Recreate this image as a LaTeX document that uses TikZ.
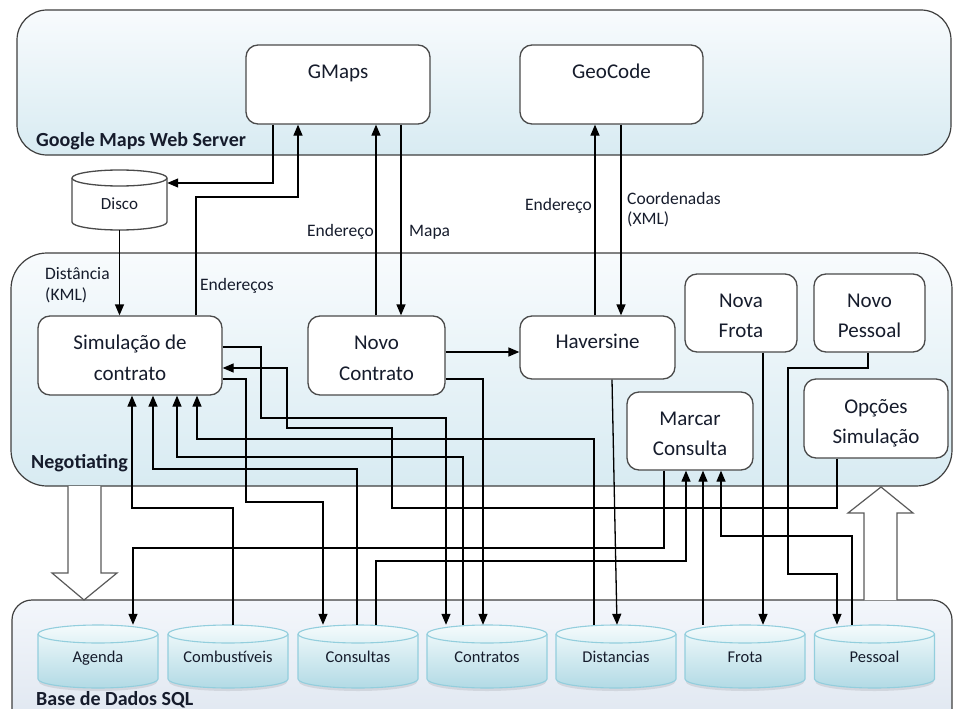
\documentclass[tikz,border=0pt]{standalone}
\usepackage{fontspec}
\setmainfont{Carlito}
\usetikzlibrary{arrows.meta}

\definecolor{panelline}{HTML}{3F3F3F}
\definecolor{paneltop}{HTML}{F8FBFD}
\definecolor{panelbot}{HTML}{D8EBF2}
\definecolor{basetop}{HTML}{F3F6FB}
\definecolor{basebot}{HTML}{DDE5EF}
\definecolor{boxline}{HTML}{4A4A4A}
\definecolor{dbline}{HTML}{93CEDD}
\definecolor{dbtop}{HTML}{F4FBFC}
\definecolor{dbbot}{HTML}{B2DAE5}
\definecolor{dbshadow}{HTML}{C9CED6}
\definecolor{ink}{HTML}{161C2C}
\definecolor{hollowline}{HTML}{5A5A5A}

\tikzset{
  panel/.style={draw=panelline, line width=1.2pt, top color=paneltop, bottom color=panelbot},
  basepanel/.style={draw=panelline, line width=1.2pt, top color=basetop, bottom color=basebot},
  procbox/.style={draw=boxline, line width=1.3pt, fill=white, rounded corners=12pt, inner sep=0pt},
  boxtxt/.style={font=\fontsize{21}{25}\selectfont, text=ink, anchor=base, inner sep=0pt},
  edgetxt/.style={font=\fontsize{17.5}{21}\selectfont, text=ink, anchor=base west, inner sep=0pt},
  paneltxt/.style={font=\bfseries\fontsize{20}{24}\selectfont, text=ink, anchor=base west, inner sep=0pt},
  dbtxt/.style={font=\fontsize{16.5}{20}\selectfont, text=ink, anchor=base, inner sep=0pt},
  dbslot/.style={minimum width=120pt, minimum height=63pt, inner sep=0pt},
  conn/.style={draw=black, line width=1.3pt},
  arr/.style={conn, -{Triangle[length=11pt,width=9pt]}},
  hollow/.style={draw=hollowline, line width=1.2pt, line join=miter},
}

% database cylinder: name, centre x, label
\newcommand\dbcyl[3]{%
  \fill[dbshadow, opacity=0.7]
    (#2-59,638) -- (#2-59,682) arc[start angle=180,end angle=0,x radius=59,y radius=9]
    -- (#2+59,638) -- cycle;
  \shade[draw=dbline, line width=1.1pt, top color=dbtop, bottom color=dbbot]
    (#2-60,634) -- (#2-60,679) arc[start angle=180,end angle=0,x radius=60,y radius=9]
    -- (#2+60,634) arc[start angle=0,end angle=-180,x radius=60,y radius=9] -- cycle;
  \draw[dbline, line width=1.1pt] (#2-60,634) arc[start angle=180,end angle=0,x radius=60,y radius=9];
  \node[dbslot] (#1) at (#2,656.5) {};
  \node[dbtxt] (#1-t) at (#2,662) {#3};
}

\begin{document}
\begin{tikzpicture}[x=1pt,y=-1pt]
\useasboundingbox (0,0) rectangle (953,709);

% layers
\path[panel, rounded corners=30pt] (17,10) rectangle (951,155);
\path[panel, rounded corners=36pt] (11,253) rectangle (952,486);
\path[basepanel, rounded corners=20pt] (12,600) rectangle (952,740);
\node[paneltxt] (gws-lbl) at (36,146) {Google Maps Web Server};
\node[paneltxt] (neg-lbl) at (31,468) {Negotiating};
\node[paneltxt] (sql-lbl) at (36,705) {Base de Dados SQL};

% flow between layers
\fill[white] (68,486) -- (68,573) -- (52,573) -- (84,600) -- (117,573) -- (101,573) -- (101,486) -- cycle;
\draw[hollow] (68,486) -- (68,573) -- (52,573) -- (84,600) -- (117,573) -- (101,573) -- (101,486);
\fill[white] (864,600) -- (864,513) -- (848,513) -- (881,487) -- (913,513) -- (897,513) -- (897,600) -- cycle;
\draw[hollow] (864,600) -- (864,513) -- (848,513) -- (881,487) -- (913,513) -- (897,513) -- (897,600);

% tables
\dbcyl{agenda}{98}{Agenda}
\dbcyl{comb}{228}{Combustíveis}
\dbcyl{consultas}{358}{Consultas}
\dbcyl{contratos}{487}{Contratos}
\dbcyl{dist}{616}{Distancias}
\dbcyl{frota}{745}{Frota}
\dbcyl{pessoal}{874.5}{Pessoal}

% disk cache
\path[draw=boxline, line width=1.3pt, fill=white]
  (72,178) -- (72,222) arc[start angle=180,end angle=0,x radius=47.5,y radius=8]
  -- (167,178) arc[start angle=0,end angle=-180,x radius=47.5,y radius=8] -- cycle;
\draw[boxline, line width=1.3pt] (72,178) arc[start angle=180,end angle=0,x radius=47.5,y radius=8];
\node[minimum width=95pt, minimum height=60pt, inner sep=0pt] (disco) at (119.5,200) {};
\node[font=\fontsize{17}{20}\selectfont, text=ink, anchor=base, inner sep=0pt] (disco-t) at (119.5,209) {Disco};

% services
\node[procbox, minimum width=184pt, minimum height=79pt] (gmaps) at (338,84.5) {};
\node[boxtxt] (gmaps-t) at (338,78) {GMaps};
\node[procbox, minimum width=183pt, minimum height=79pt] (geo) at (611.5,84.5) {};
\node[boxtxt] (geo-t) at (611.5,78) {GeoCode};

% processes
\node[procbox, minimum width=184pt, minimum height=79pt] (sim) at (130,355.5) {};
\node[boxtxt] (sim-t1) at (130,349) {Simulação de};
\node[boxtxt] (sim-t2) at (130,380) {contrato};
\node[procbox, minimum width=137pt, minimum height=79pt] (nc) at (376.5,355.5) {};
\node[boxtxt] (nc-t1) at (376.5,349) {Novo};
\node[boxtxt] (nc-t2) at (376.5,380) {Contrato};
\node[procbox, minimum width=155pt, minimum height=63pt] (hav) at (597.5,347.5) {};
\node[boxtxt] (hav-t) at (597.5,348) {Haversine};
\node[procbox, minimum width=112pt, minimum height=78pt] (nf) at (741,313) {};
\node[boxtxt] (nf-t1) at (741,307) {Nova};
\node[boxtxt] (nf-t2) at (741,337) {Frota};
\node[procbox, minimum width=111pt, minimum height=78pt] (np) at (869.5,313) {};
\node[boxtxt] (np-t1) at (869.5,307) {Novo};
\node[boxtxt] (np-t2) at (869.5,337) {Pessoal};
\node[procbox, minimum width=126pt, minimum height=78pt] (mc) at (690,431) {};
\node[boxtxt] (mc-t1) at (690,425) {Marcar};
\node[boxtxt] (mc-t2) at (690,455) {Consulta};
\node[procbox, minimum width=144pt, minimum height=79pt] (opc) at (876,418.5) {};
\node[boxtxt] (opc-t1) at (876,413) {Opções};
\node[boxtxt] (opc-t2) at (876,443) {Simulação};

% web server exchanges
\draw[arr] (gmaps.south -| 273,0) -- (273,183) -- (disco.east |- 0,183);
\draw[arr] (sim.north -| 196,0) -- (196,197) -- (298,197) -- (gmaps.south -| 298,0);
\draw[arr] (disco.south) -- (sim.north -| disco.south);
\draw[arr] (nc.north -| 376,0) -- (gmaps.south -| 376,0);
\draw[arr] (gmaps.south -| 401,0) -- (nc.north -| 401,0);
\draw[arr] (hav.north -| 595,0) -- (geo.south -| 595,0);
\draw[arr] (geo.south -| 621,0) -- (hav.north -| 621,0);

\node[edgetxt] (l-dist1) at (45,279) {Distância};
\node[edgetxt] (l-dist2) at (45,300) {(KML)};
\node[edgetxt] (l-ends) at (200,290) {Endereços};
\node[edgetxt, anchor=base east] (l-end1) at (374,236) {Endereço};
\node[edgetxt] (l-mapa) at (409,236) {Mapa};
\node[edgetxt, anchor=base east] (l-end2) at (592,210) {Endereço};
\node[edgetxt] (l-coord1) at (627,204) {Coordenadas};
\node[edgetxt] (l-coord2) at (627,224) {(XML)};

% process to process
\draw[arr] (nc.east |- 0,352) -- (hav.west |- 0,352);

% process and table links
\draw[arr] (nc.east |- 0,379) -- (483,379) -- (contratos.north -| 483,0);
\draw[arr] (sim.east |- 0,347) -- (261,347) -- (261,418) -- (446,418) -- (contratos.north -| 446,0);
\draw[arr] (opc.south -| 837,0) -- (837,508) -- (392,508) -- (392,428) -- (287,428) -- (287,368) -- (sim.east |- 0,368);
\draw[arr] (sim.east |- 0,379) -- (246,379) -- (246,502) -- (323,502) -- (consultas.north -| 323,0);
\draw[arr] (dist.north -| 594,0) -- (594,439) -- (197,439) -- (sim.south -| 197,0);
\draw[arr] (contratos.north -| 463,0) -- (463,457) -- (177,457) -- (sim.south -| 177,0);
\draw[arr] (consultas.north -| 357,0) -- (357,469) -- (153,469) -- (sim.south -| 153,0);
\draw[arr] (comb.north -| 233,0) -- (233,508) -- (132,508) -- (sim.south -| 132,0);
\draw[arr] (mc.south -| 664,0) -- (664,548) -- (133,548) -- (agenda.north -| 133,0);
\draw[arr] (consultas.north -| 376,0) -- (376,561) -- (686,561) -- (mc.south -| 686,0);
\draw[arr] (frota.north -| 703,0) -- (mc.south -| 703,0);
\draw[arr] (pessoal.north -| 852,0) -- (852,536) -- (721,536) -- (mc.south -| 721,0);
\draw[arr] (nf.south -| 763,0) -- (frota.north -| 763,0);
\draw[arr] (np.south -| 868,0) -- (868,368) -- (788,368) -- (788,574) -- (837,574) -- (pessoal.north -| 837,0);
\draw[arr] (hav.south -| 612,0) -- (dist.north -| 617,0);

\end{tikzpicture}
\end{document}
